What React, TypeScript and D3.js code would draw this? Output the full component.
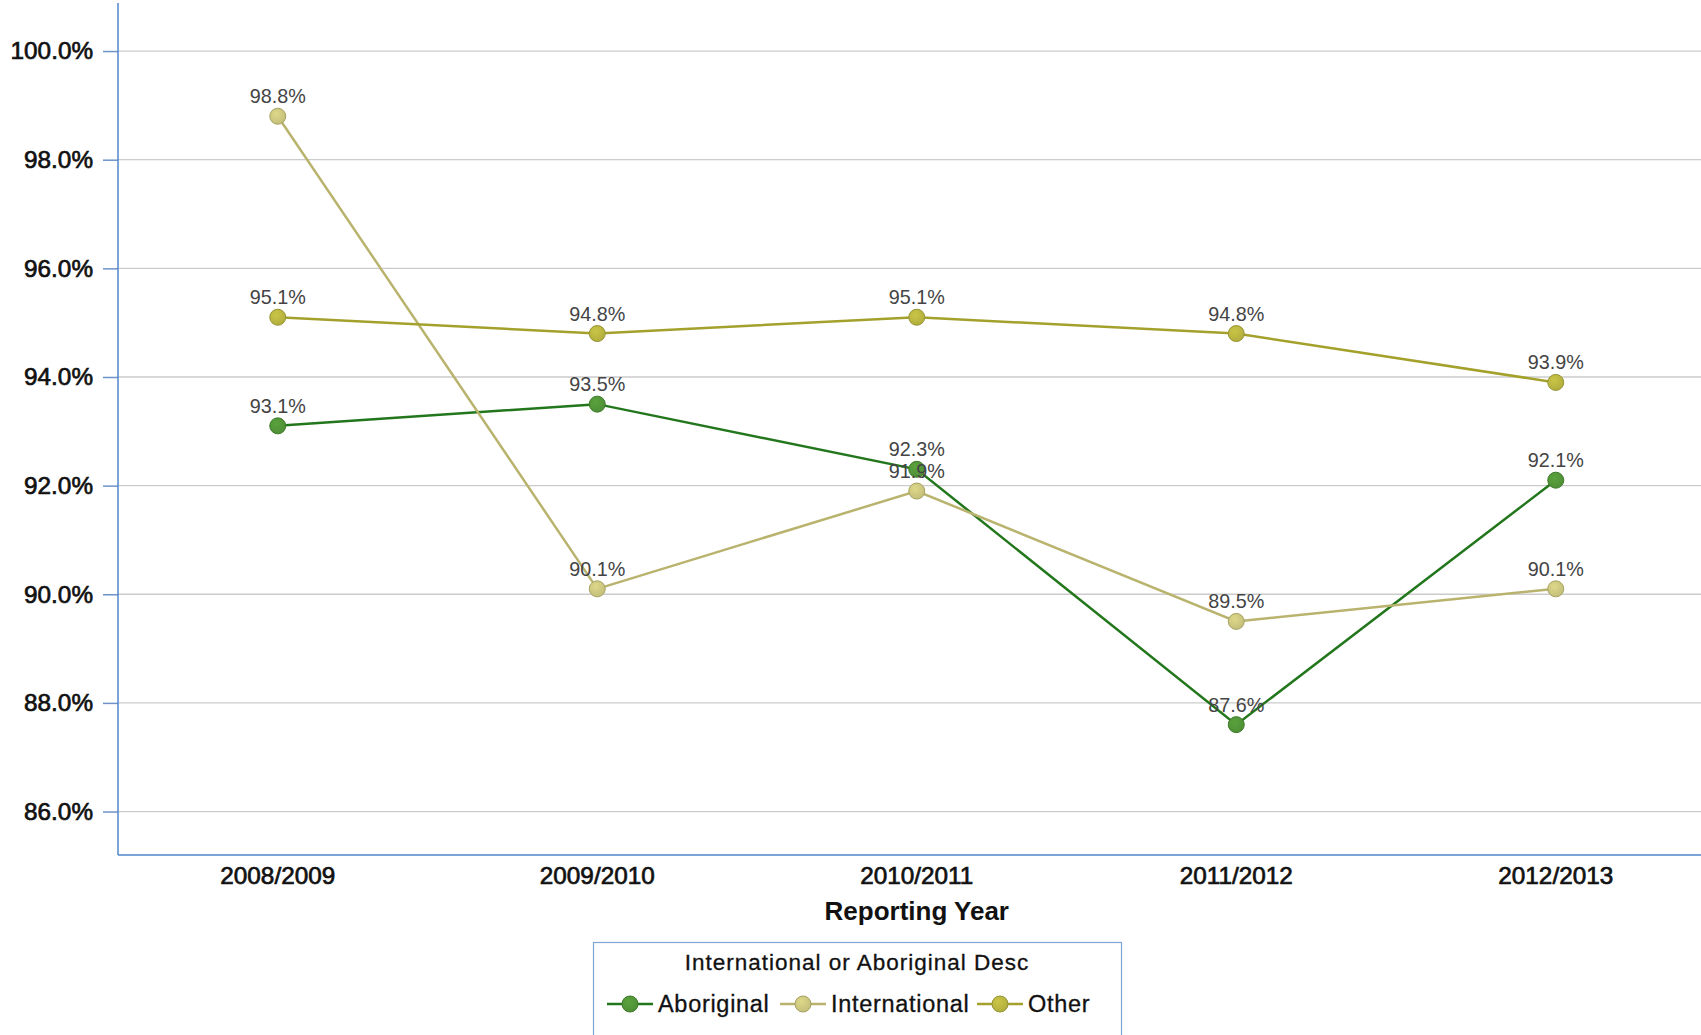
import { useEffect, useRef } from "react"
import * as d3 from "d3"

const years = ["2008/2009", "2009/2010", "2010/2011", "2011/2012", "2012/2013"]
const seriesNames = ["Aboriginal", "International", "Other"]
const aboriginal = [93.1, 93.5, 92.3, 87.6, 92.1]
const international = [98.8, 90.1, 91.9, 89.5, 90.1]
const other = [95.1, 94.8, 95.1, 94.8, 93.9]
const yTicks = [86, 88, 90, 92, 94, 96, 98, 100]

const lineColors = ["#22761c", "#b9b36e", "#a3a12c"]
const dotColors = ["#4f8f36", "#c4bf7a", "#b2ae3e"]
const dotStroke = ["#3d7a28", "#a7a262", "#979432"]

export default function App() {
  const svgRef = useRef<SVGSVGElement>(null)
  const width = 1701
  const height = 1035

  useEffect(() => {
    if (!svgRef.current) return
    const svg = d3.select(svgRef.current)
    svg.selectAll("*").remove()

    const font = "'Liberation Sans', Arial, sans-serif"
    const left = 118, bottom = 855
    const band = 319.5

    const x = d3.scaleBand().domain(years).range([left, left + band * years.length]).padding(0)
    const y = d3.scaleLinear().domain([85.2, 100.94]).range([bottom, 0])
    const cx = (d: string) => (x(d) as number) + x.bandwidth() / 2

    // gridlines
    svg.append("g").selectAll("line").data(yTicks).enter().append("line")
      .attr("x1", left).attr("x2", width)
      .attr("y1", d => y(d)).attr("y2", d => y(d))
      .attr("stroke", "#cbcbcb").attr("stroke-width", 1.3)

    // y axis
    const yAxis = svg.append("g").attr("transform", `translate(${left},0)`)
      .call(d3.axisLeft(y).tickValues(yTicks).tickSize(15).tickPadding(10).tickFormat(d => `${(+d).toFixed(1)}%`))
    yAxis.select(".domain").remove()
    yAxis.selectAll(".tick line").attr("stroke", "#6d93c9").attr("stroke-width", 1.5)
    yAxis.selectAll(".tick text").attr("font-family", font).attr("font-size", 24.3)
      .attr("fill", "#111").attr("stroke", "#111").attr("stroke-width", 0.7)

    // x axis
    const xAxis = svg.append("g").attr("transform", `translate(0,${bottom})`)
      .call(d3.axisBottom(x).tickSize(0).tickPadding(12))
    xAxis.select(".domain").remove()
    xAxis.selectAll(".tick text").attr("font-family", font).attr("font-size", 24.3)
      .attr("fill", "#111").attr("stroke", "#111").attr("stroke-width", 0.7)

    svg.append("line").attr("x1", left).attr("x2", width).attr("y1", bottom).attr("y2", bottom)
      .attr("stroke", "#4f86cc").attr("stroke-width", 1.5)
    svg.append("line").attr("x1", left).attr("x2", left).attr("y1", 3).attr("y2", bottom)
      .attr("stroke", "#4f86cc").attr("stroke-width", 1.5)

    svg.append("text").attr("x", cx(years[2])).attr("y", 920)
      .attr("text-anchor", "middle").attr("font-family", font).attr("font-size", 26)
      .attr("font-weight", "bold").attr("fill", "#111").text("Reporting Year")

    // gradients for markers
    const defs = svg.append("defs")
    dotColors.forEach((c, i) => {
      const g = defs.append("radialGradient").attr("id", `dot${i}`).attr("cx", "40%").attr("cy", "35%").attr("r", "65%")
      g.append("stop").attr("offset", "0%").attr("stop-color", d3.color(c)!.brighter(0.35).formatHex())
      g.append("stop").attr("offset", "100%").attr("stop-color", c)
    })

    const series = [aboriginal, international, other]
    const line = d3.line<number>().x((_, i) => cx(years[i])).y(d => y(d))

    series.forEach((vals, si) => {
      svg.append("path").datum(vals).attr("d", line)
        .attr("fill", "none").attr("stroke", lineColors[si]).attr("stroke-width", 2.5)
    })
    series.forEach((vals, si) => {
      svg.append("g").selectAll("circle").data(vals).enter().append("circle")
        .attr("cx", (_, i) => cx(years[i])).attr("cy", d => y(d)).attr("r", 8)
        .attr("fill", `url(#dot${si})`).attr("stroke", dotStroke[si]).attr("stroke-width", 1)
    })
    series.forEach(vals => {
      svg.append("g").selectAll("text").data(vals).enter().append("text")
        .attr("x", (_, i) => cx(years[i])).attr("y", d => y(d) - 13)
        .attr("text-anchor", "middle").attr("font-family", font).attr("font-size", 19.8)
        .attr("fill", "#444").text(d => `${d.toFixed(1)}%`)
    })

    // legend
    const lg = svg.append("g")
    lg.append("rect").attr("x", 593.5).attr("y", 942.5).attr("width", 528).attr("height", 120)
      .attr("fill", "white").attr("stroke", "#7ea3d6").attr("stroke-width", 1.2)
    lg.append("text").attr("x", 857).attr("y", 970).attr("text-anchor", "middle")
      .attr("font-family", font).attr("font-size", 22.5).attr("fill", "#111")
      .attr("stroke", "#111").attr("stroke-width", 0.3)
      .attr("letter-spacing", 1).text("International or Aboriginal Desc")
    const symX = [630, 803, 1000]
    seriesNames.forEach((name, i) => {
      const ly = 1004
      lg.append("line").attr("x1", symX[i] - 23).attr("x2", symX[i] + 23).attr("y1", ly).attr("y2", ly)
        .attr("stroke", lineColors[i]).attr("stroke-width", 2.5)
      lg.append("circle").attr("cx", symX[i]).attr("cy", ly).attr("r", 8)
        .attr("fill", `url(#dot${i})`).attr("stroke", dotStroke[i])
      lg.append("text").attr("x", symX[i] + 28).attr("y", ly + 8)
        .attr("font-family", font).attr("font-size", 23.5).attr("fill", "#111")
        .attr("stroke", "#111").attr("stroke-width", 0.3)
        .attr("letter-spacing", 0.7).text(name)
    })
  }, [])

  return (
    <div style={{ position: "absolute", left: 0, top: 0 }}>
      <svg ref={svgRef} width={width} height={height} style={{ display: "block", background: "white" }}></svg>
    </div>
  )
}
